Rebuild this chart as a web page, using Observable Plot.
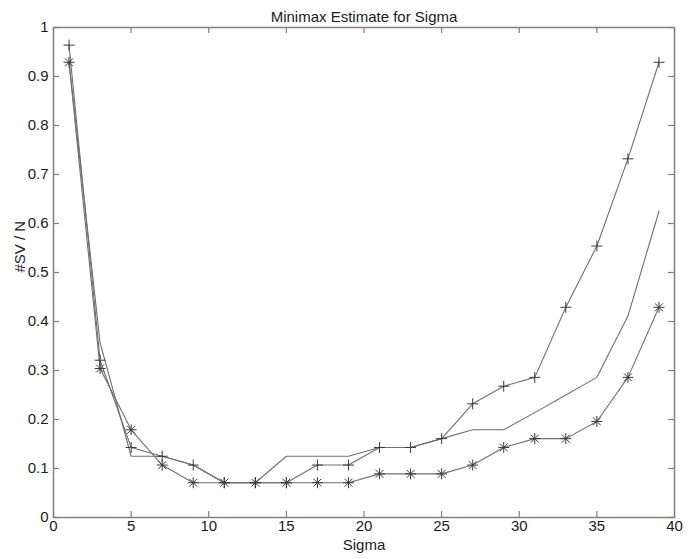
<!DOCTYPE html>
<html>
<head>
<meta charset="utf-8">
<script src="https://cdn.jsdelivr.net/npm/d3@7"></script>
<script src="https://cdn.jsdelivr.net/npm/@observablehq/plot@0.6"></script>
<style>
  html, body { margin: 0; padding: 0; background: #fff; }
</style>
</head>
<body>
<div id="chart"></div>
<script>
// Sigma values tested (odd values 1..39)
const sigma = [1, 3, 5, 7, 9, 11, 13, 15, 17, 19, 21, 23, 25, 27, 29, 31, 33, 35, 37, 39];

// Fraction of support vectors (#SV / N) for each estimate
const svPlus = [0.964, 0.321, 0.143, 0.125, 0.107, 0.071, 0.071, 0.071, 0.107, 0.107,
                0.143, 0.143, 0.161, 0.232, 0.268, 0.286, 0.429, 0.554, 0.732, 0.929];
const svLine = [0.929, 0.357, 0.125, 0.125, 0.107, 0.071, 0.071, 0.125, 0.125, 0.125,
                0.143, 0.143, 0.161, 0.179, 0.179, 0.214, 0.250, 0.286, 0.411, 0.625];
const svStar = [0.929, 0.304, 0.179, 0.107, 0.071, 0.071, 0.071, 0.071, 0.071, 0.071,
                0.089, 0.089, 0.089, 0.107, 0.143, 0.161, 0.161, 0.196, 0.286, 0.429];

const xTicks = [0, 5, 10, 15, 20, 25, 30, 35, 40];
const yTicks = [0, 0.1, 0.2, 0.3, 0.4, 0.5, 0.6, 0.7, 0.8, 0.9, 1];

const titleText = "Minimax Estimate for Sigma";
const xLabel = "Sigma";
const yLabel = "#SV / N";

const rows = (ys) => sigma.map((s, i) => ({sigma: s, v: ys[i]}));
const plusData = rows(svPlus);
const lineData = rows(svLine);
const starData = rows(svStar);

// Stroked marker shapes in the style of classic line-plot markers
const plusSymbol = {
  draw(ctx, size) {
    const r = Math.sqrt(size / Math.PI);
    ctx.moveTo(-r, 0); ctx.lineTo(r, 0);
    ctx.moveTo(0, -r); ctx.lineTo(0, r);
  }
};
const starSymbol = {
  draw(ctx, size) {
    const r = Math.sqrt(size / Math.PI);
    const d = r * 0.72;
    ctx.moveTo(-r, 0); ctx.lineTo(r, 0);
    ctx.moveTo(0, -r); ctx.lineTo(0, r);
    ctx.moveTo(-d, -d); ctx.lineTo(d, d);
    ctx.moveTo(-d, d); ctx.lineTo(d, -d);
  }
};

const W = 698, H = 559;
const mL = 53, mR = 24, mT = 27, mB = 42;
const xDom = [0, 40], yDom = [0, 1];
// inward tick length (6px) expressed in data units
const tx = 6 * (xDom[1] - xDom[0]) / (W - mL - mR);
const ty = 6 * (yDom[1] - yDom[0]) / (H - mT - mB);

const lineColor = "#707070";
const markColor = "#3a3a3a";
const axisColor = "#808080";
const textColor = "#1a1a1a";

const chart = Plot.plot({
  width: W,
  height: H,
  marginLeft: mL,
  marginRight: mR,
  marginTop: mT,
  marginBottom: mB,
  x: {domain: xDom},
  y: {domain: yDom},
  style: {fontFamily: "'Liberation Sans', Arial, sans-serif", fontSize: "15px", color: textColor, background: "#fff"},
  marks: [
    // inward ticks on all four sides
    Plot.ruleX(xTicks, {x: d => d, y1: yDom[0], y2: yDom[0] + ty, stroke: axisColor, strokeWidth: 1.2}),
    Plot.ruleX(xTicks, {x: d => d, y1: yDom[1], y2: yDom[1] - ty, stroke: axisColor, strokeWidth: 1.2}),
    Plot.ruleY(yTicks, {y: d => d, x1: xDom[0], x2: xDom[0] + tx, stroke: axisColor, strokeWidth: 1.2}),
    Plot.ruleY(yTicks, {y: d => d, x1: xDom[1], x2: xDom[1] - tx, stroke: axisColor, strokeWidth: 1.2}),
    Plot.frame({stroke: axisColor, strokeWidth: 1.5}),
    Plot.axisX({ticks: xTicks, tickSize: 0, tickPadding: 3, label: null, fill: textColor, fontSize: 15}),
    Plot.axisY({ticks: yTicks, tickSize: 0, tickPadding: 5, label: null, fill: textColor, fontSize: 15,
      tickFormat: d => (d === 0 || d === 1) ? String(d) : d.toFixed(1)}),

    // the three curves
    Plot.line(plusData, {x: "sigma", y: "v", stroke: lineColor, strokeWidth: 1.1}),
    Plot.line(lineData, {x: "sigma", y: "v", stroke: lineColor, strokeWidth: 1.1}),
    Plot.line(starData, {x: "sigma", y: "v", stroke: lineColor, strokeWidth: 1.1}),
    Plot.dot(plusData, {x: "sigma", y: "v", symbol: plusSymbol, r: 5.5, fill: "none", stroke: markColor, strokeWidth: 1}),
    Plot.dot(starData, {x: "sigma", y: "v", symbol: starSymbol, r: 5.5, fill: "none", stroke: markColor, strokeWidth: 1}),

    // title and axis labels
    Plot.text([titleText], {text: d => d, frameAnchor: "top", dy: -16, fill: textColor, fontSize: 15}),
    Plot.text([xLabel], {text: d => d, frameAnchor: "bottom", dy: 32, fill: textColor, fontSize: 15}),
    Plot.text([yLabel], {text: d => d, frameAnchor: "left", dx: -33, rotate: -90, fill: textColor, fontSize: 15})
  ]
});

document.getElementById("chart").appendChild(chart);
</script>
</body>
</html>
